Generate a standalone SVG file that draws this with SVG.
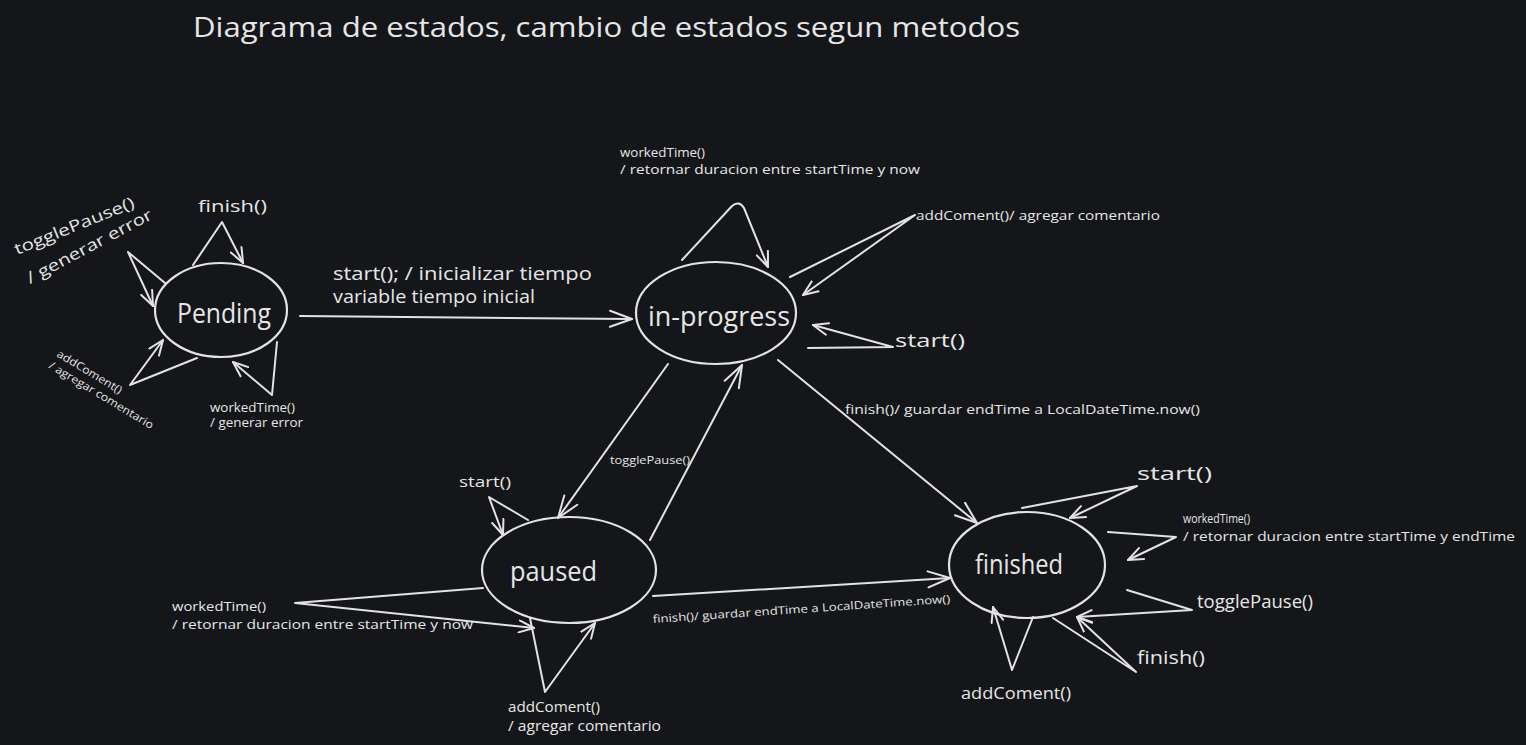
<svg xmlns="http://www.w3.org/2000/svg" width="1526" height="745" viewBox="0 0 1526 745">
<style>
.bg{fill:#14161a}
.n{fill:none;stroke:#e3e3e3;stroke-width:2.2}
.c{fill:none;stroke:#e3e3e3;stroke-width:2;stroke-linejoin:round;stroke-linecap:round}
.cb{marker-end:url(#big)}
.cs{marker-end:url(#sm)}
text{fill:#e6e6e6;font-family:"Open Sans","Noto Sans",sans-serif}
.t28{font-size:27px}
.t20{font-size:19px}
.t17{font-size:16px}
.t14{font-size:14px}
.t13{font-size:12.5px}
.t11{font-size:11px}
</style>
<defs>
<marker id="big" viewBox="0 0 26 20" refX="24" refY="10" markerWidth="26" markerHeight="20" orient="auto" markerUnits="userSpaceOnUse">
<path d="M2,2 L24,10 L2,18" fill="none" stroke="#e3e3e3" stroke-width="2" stroke-linecap="round" stroke-linejoin="round"/>
</marker>
<marker id="sm" viewBox="0 0 18 14" refX="16" refY="7" markerWidth="18" markerHeight="14" orient="auto" markerUnits="userSpaceOnUse">
<path d="M1,1 L16,7 L1,13" fill="none" stroke="#e3e3e3" stroke-width="2" stroke-linecap="round" stroke-linejoin="round"/>
</marker>
</defs>
<rect class="bg" x="0" y="0" width="1526" height="745"/>
<text x="193" y="37" font-size="27" textLength="827" lengthAdjust="spacingAndGlyphs">Diagrama de estados, cambio de estados segun metodos</text>

<g id="pending">
<ellipse class="n" cx="221" cy="310" rx="66" ry="47"/>
<text class="t28" x="177" y="323" textLength="94" lengthAdjust="spacingAndGlyphs">Pending</text>
</g>
<g id="in-progress">
<ellipse class="n" cx="716" cy="313" rx="80" ry="51"/>
<text class="t28" x="648" y="326" textLength="142" lengthAdjust="spacingAndGlyphs">in-progress</text>
</g>
<g id="paused">
<ellipse class="n" cx="569" cy="570" rx="87" ry="53"/>
<text class="t28" x="510" y="581" textLength="87" lengthAdjust="spacingAndGlyphs">paused</text>
</g>
<g id="finished">
<ellipse class="n" cx="1027" cy="565" rx="78" ry="53"/>
<text class="t28" x="975" y="574" textLength="88" lengthAdjust="spacingAndGlyphs">finished</text>
</g>

<g id="connectors">
<!-- main transitions -->
<path class="c cb" d="M300,316 L632,319"/>
<path class="c cb" d="M668,364 L558,518"/>
<path class="c cb" d="M650,540 L742,365"/>
<path class="c cb" d="M778,360 L977,523"/>
<path class="c cb" d="M653,596 L950,578"/>
<!-- pending self loops -->
<polyline class="c cs" points="193,265 222,222 243,263"/>
<polyline class="c cs" points="165,283 128,252 153,306"/>
<polyline class="c cs" points="197,358 130,385 163,340"/>
<polyline class="c cs" points="277,342 272,395 233,362"/>
<!-- in-progress self loops -->
<path class="c cs" d="M682,260 L732,206 Q739,200 744,208 L768,267"/>
<polyline class="c cs" points="790,277 915,215 803,295"/>
<polyline class="c cs" points="808,348 893,347 813,325"/>
<!-- paused self loops -->
<polyline class="c cs" points="528,520 489,497 503,535"/>
<polyline class="c cs" points="483,588 295,603 534,628"/>
<polyline class="c cs" points="530,618 545,692 595,623"/>
<!-- finished self loops -->
<polyline class="c cs" points="1022,508 1137,486 1070,518"/>
<polyline class="c cs" points="1108,532 1176,537 1128,560"/>
<polyline class="c cs" points="1127,590 1192,610 1077,617"/>
<polyline class="c cs" points="1053,618 1136,672 1077,617"/>
<polyline class="c cs" points="1033,617 1012,670 993,607"/>
</g>

<g id="labels">
<text class="t20" x="333" y="280" textLength="259" lengthAdjust="spacingAndGlyphs">start(); / inicializar tiempo</text>
<text class="t20" x="333" y="303" textLength="202" lengthAdjust="spacingAndGlyphs">variable tiempo inicial</text>
<text class="t11" x="610" y="464" textLength="80" lengthAdjust="spacingAndGlyphs">togglePause()</text>
<text class="t13" x="845" y="414" textLength="355" lengthAdjust="spacingAndGlyphs">finish()/ guardar endTime a LocalDateTime.now()</text>
<text class="t11" transform="translate(653,623) rotate(-3.9)" x="0" y="0" textLength="298" lengthAdjust="spacingAndGlyphs">finish()/ guardar endTime a LocalDateTime.now()</text>

<text class="t17" x="198" y="212" textLength="69" lengthAdjust="spacingAndGlyphs">finish()</text>
<text class="t17" transform="translate(17,255) rotate(-22)" x="0" y="0" textLength="128" lengthAdjust="spacingAndGlyphs">togglePause()</text>
<text class="t17" transform="translate(30,284) rotate(-28)" x="0" y="0" textLength="140" lengthAdjust="spacingAndGlyphs">/ generar error</text>
<g transform="translate(56,356) rotate(31)">
<text class="t11" x="0" y="0" textLength="74" lengthAdjust="spacingAndGlyphs">addComent()</text>
<text class="t11" x="-1" y="14" textLength="120" lengthAdjust="spacingAndGlyphs">/ agregar comentario</text>
</g>
<text class="t13" x="210" y="412" textLength="85" lengthAdjust="spacingAndGlyphs">workedTime()</text>
<text class="t13" x="210" y="427" textLength="93" lengthAdjust="spacingAndGlyphs">/ generar error</text>

<text class="t13" x="620" y="157" textLength="85" lengthAdjust="spacingAndGlyphs">workedTime()</text>
<text class="t13" x="620" y="174" textLength="300" lengthAdjust="spacingAndGlyphs">/ retornar duracion entre startTime y now</text>
<text class="t13" x="916" y="220" textLength="244" lengthAdjust="spacingAndGlyphs">addComent()/ agregar comentario</text>
<text class="t20" x="895" y="347" textLength="70" lengthAdjust="spacingAndGlyphs">start()</text>

<text class="t14" x="459" y="487" textLength="52" lengthAdjust="spacingAndGlyphs">start()</text>
<text class="t13" x="172" y="611" textLength="94" lengthAdjust="spacingAndGlyphs">workedTime()</text>
<text class="t13" x="172" y="629" textLength="301" lengthAdjust="spacingAndGlyphs">/ retornar duracion entre startTime y now</text>
<text class="t14" x="508" y="712" textLength="92" lengthAdjust="spacingAndGlyphs">addComent()</text>
<text class="t14" x="508" y="731" textLength="153" lengthAdjust="spacingAndGlyphs">/ agregar comentario</text>

<text class="t20" x="1137" y="480" textLength="75" lengthAdjust="spacingAndGlyphs">start()</text>
<text class="t13" x="1183" y="523" textLength="67" lengthAdjust="spacingAndGlyphs">workedTime()</text>
<text class="t13" x="1183" y="541" textLength="332" lengthAdjust="spacingAndGlyphs">/ retornar duracion entre startTime y endTime</text>
<text class="t20" x="1197" y="608" textLength="116" lengthAdjust="spacingAndGlyphs">togglePause()</text>
<text class="t20" x="1137" y="664" textLength="68" lengthAdjust="spacingAndGlyphs">finish()</text>
<text class="t17" x="961" y="699" textLength="110" lengthAdjust="spacingAndGlyphs">addComent()</text>
</g>
</svg>
